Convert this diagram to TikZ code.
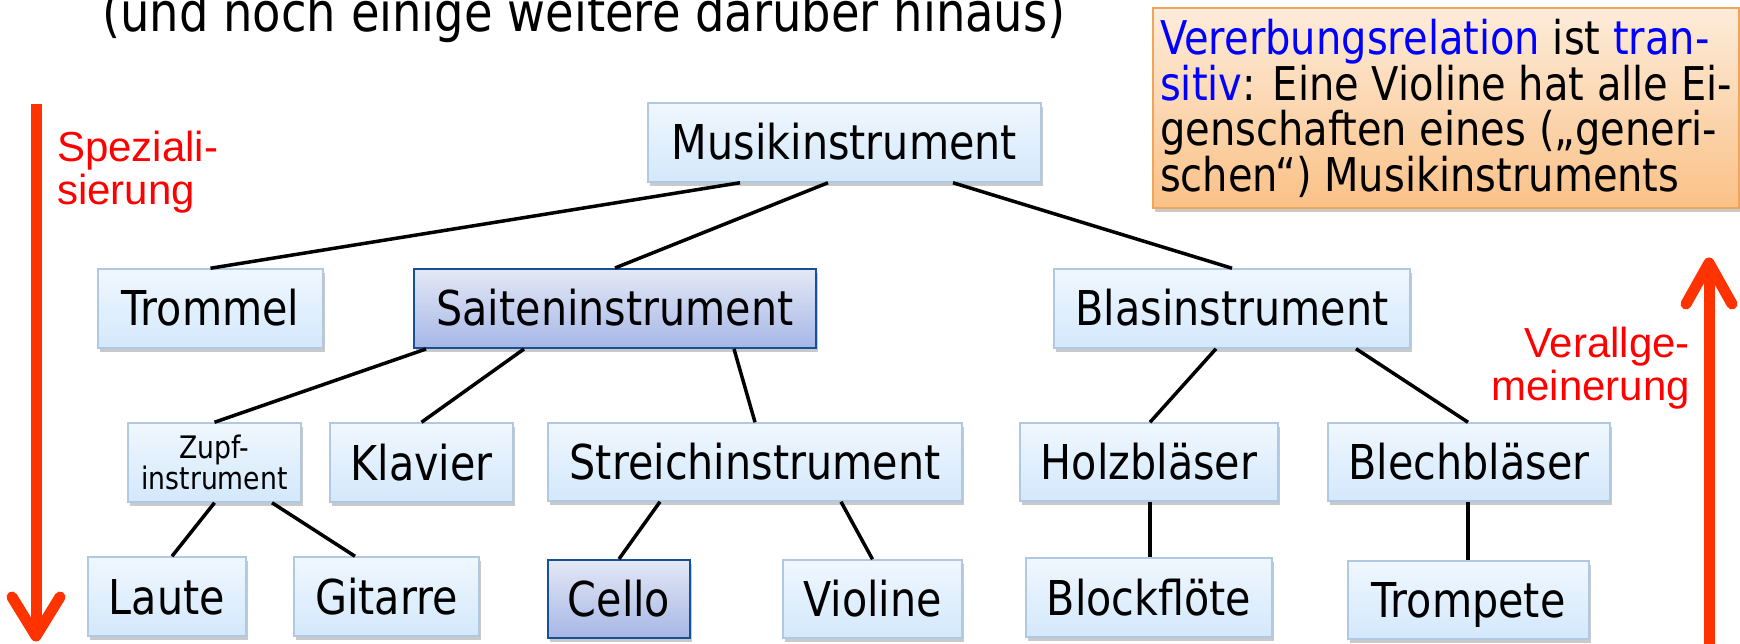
\documentclass[tikz,border=0pt]{standalone}
\usepackage{fontspec}
\setmainfont{DejaVu Sans}[FakeStretch=0.86]
\newfontfamily\arialf{Liberation Sans}
\usetikzlibrary{shadows}
\definecolor{boxtop}{RGB}{240,247,254}
\definecolor{boxbottom}{RGB}{211,232,251}
\definecolor{boxborder}{RGB}{176,200,225}
\definecolor{hltop}{RGB}{228,232,246}
\definecolor{hlbottom}{RGB}{166,183,230}
\definecolor{hlborder}{RGB}{22,80,150}
\definecolor{infotop}{RGB}{253,236,218}
\definecolor{infobottom}{RGB}{250,193,135}
\definecolor{infoborder}{RGB}{240,165,90}
\definecolor{arrowred}{RGB}{255,51,0}
\definecolor{textblue}{RGB}{0,0,255}
\begin{document}
\begin{tikzpicture}[x=1pt,y=-1pt,
  boxbase/.style={draw=boxborder, line width=1.5pt, top color=boxtop, bottom color=boxbottom,
    minimum height=79pt, inner sep=0pt,
    drop shadow={shadow xshift=1.5pt, shadow yshift=-4pt, opacity=0.3, fill=black!70}},
  box/.style={boxbase, font=\fontsize{48}{48}\selectfont, text height=35pt, text depth=0pt},
  hlbox/.style={box, draw=hlborder, line width=2pt, top color=hltop, bottom color=hlbottom},
  link/.style={draw=black, line width=3.5pt},
  redarrow/.style={draw=arrowred, line width=11pt},
  redtext/.style={text=red, font=\arialf\fontsize{42}{43}\selectfont, inner sep=0pt}]
\path[use as bounding box, clip] (0,0) rectangle (1740,644);

% title (cut off at top, as in the reference)
\node[anchor=base west, inner sep=0pt, font=\fontsize{54}{54}\selectfont] (title) at (102,32)
  {(und noch einige weitere darüber hinaus)};

% info box
\node[draw=infoborder, line width=1.5pt, top color=infotop, bottom color=infobottom,
  minimum width=586pt, minimum height=200pt, inner sep=0pt, align=left,
  font=\fontsize{46.5}{45}\selectfont,
  drop shadow={shadow xshift=1.5pt, shadow yshift=-4pt, opacity=0.3, fill=black!70}]
  (info) at (1446,108)
  {{\color{textblue}Vererbungsrelation} ist {\color{textblue}tran-}\\
   {\color{textblue}sitiv}: Eine Violine hat alle Ei-\\
   genschaften eines („generi-\\
   schen“) Musikinstruments};

% red labels
\node[redtext, anchor=north west, align=left] (spez) at (57,131) {Speziali-\\sierung};
\node[redtext, anchor=north east, align=right] (verall) at (1690,327) {Verallge-\\meinerung};

% arrows
\draw[redarrow] (36,104) -- (36,632);
\draw[redarrow, line cap=round, line join=round] (12,597) -- (36,636) -- (60,597);
\draw[redarrow] (1709,660) -- (1709,268);
\draw[redarrow, line cap=round, line join=round] (1686,304) -- (1709,263) -- (1732,304);

% nodes
\node[box, minimum width=393pt] (musik) at (844.5,142.5) {Musikinstrument};
\node[box, minimum width=225pt] (trommel) at (210.5,308.5) {Trommel};
\node[hlbox, minimum width=402pt] (saiten) at (615,308.5) {Saiteninstrument};
\node[box, minimum width=356pt] (blas) at (1232,308.5) {Blasinstrument};
\node[boxbase, minimum width=173pt, align=center, font=\fontsize{31}{30}\selectfont] (zupf) at (214.5,462.5) {Zupf-\\instrument};
\node[box, minimum width=183pt] (klavier) at (421.5,462.5) {Klavier};
\node[box, minimum width=414pt, minimum height=78pt] (streich) at (755,462) {Streichinstrument};
\node[box, minimum width=258pt, minimum height=78pt] (holz) at (1149,462) {Holzbläser};
\node[box, minimum width=282pt, minimum height=78pt] (blech) at (1469,462) {Blechbläser};
\node[box, minimum width=158pt] (laute) at (167,596.5) {Laute};
\node[box, minimum width=185pt] (gitarre) at (386.5,596.5) {Gitarre};
\node[hlbox, minimum width=142pt, minimum height=78pt] (cello) at (619,599) {Cello};
\node[box, minimum width=179pt, minimum height=78pt] (violine) at (872.5,599) {Violine};
\node[box, minimum width=246pt] (block) at (1149,597.5) {Blockflöte};
\node[box, minimum width=241pt, minimum height=78pt] (trompete) at (1468.5,600) {Trompete};

% connectors
\draw[link] ([xshift=-104.5pt]musik.south) -- (trommel.north);
\draw[link] ([xshift=-16.5pt]musik.south) -- (saiten.north);
\draw[link] ([xshift=108.5pt]musik.south) -- (blas.north);
\draw[link] ([xshift=-189pt]saiten.south) -- (zupf.north);
\draw[link] ([xshift=-91pt]saiten.south) -- (klavier.north);
\draw[link] ([xshift=119pt]saiten.south) -- (streich.north);
\draw[link] ([xshift=-95pt]streich.south) -- (cello.north);
\draw[link] ([xshift=86pt]streich.south) -- (violine.north);
\draw[link] (zupf.south) -- ([xshift=5pt]laute.north);
\draw[link] ([xshift=57.5pt]zupf.south) -- ([xshift=-31.5pt]gitarre.north);
\draw[link] ([xshift=-16pt]blas.south) -- ([xshift=1pt]holz.north);
\draw[link] ([xshift=124pt]blas.south) -- ([xshift=-1pt]blech.north);
\draw[link] ([xshift=1pt]holz.south) -- ([xshift=1pt]block.north);
\draw[link] ([xshift=-1pt]blech.south) -- ([xshift=-0.5pt]trompete.north);
\end{tikzpicture}
\end{document}
